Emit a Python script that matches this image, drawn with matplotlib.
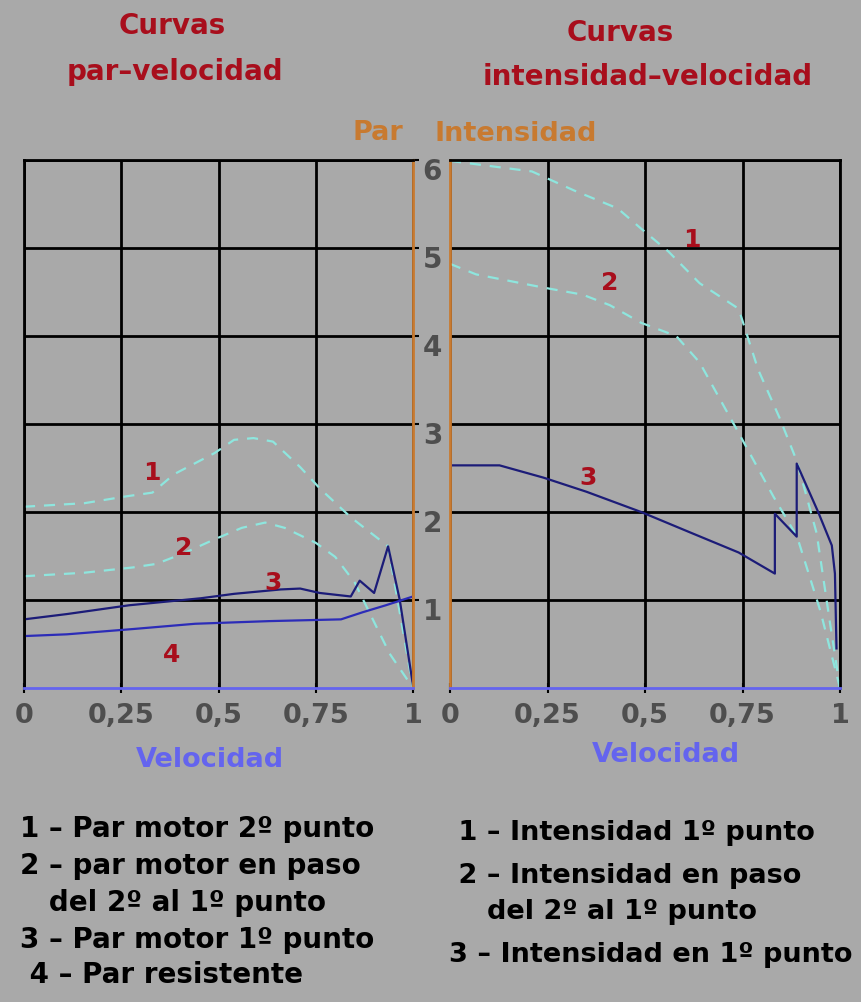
import matplotlib
matplotlib.use("Agg")
import matplotlib.pyplot as plt
from matplotlib.transforms import ScaledTranslation

# ---------------- data ----------------
x_ticks = [0, 0.25, 0.5, 0.75, 1]
x_tick_labels = ["0", "0,25", "0,5", "0,75", "1"]
y_ticks = [1, 2, 3, 4, 5, 6]
y_tick_labels = ["1", "2", "3", "4", "5", "6"]

# Par-velocidad curves
par1_x = [0.0, 0.155, 0.266, 0.33, 0.386, 0.49, 0.54, 0.59, 0.64, 0.71, 0.76, 0.84, 0.936, 1.0]
par1_y = [2.06, 2.10, 2.18, 2.22, 2.43, 2.67, 2.82, 2.84, 2.80, 2.51, 2.27, 1.94, 1.61, 0.0]

par2_x = [0.0, 0.155, 0.28, 0.34, 0.41, 0.49, 0.56, 0.62, 0.67, 0.75, 0.80, 0.85, 0.89, 0.94, 1.0]
par2_y = [1.27, 1.31, 1.37, 1.41, 1.53, 1.69, 1.82, 1.88, 1.82, 1.65, 1.49, 1.20, 0.84, 0.39, 0.0]

par3_x = [0.0, 0.11, 0.27, 0.455, 0.54, 0.66, 0.71, 0.76, 0.84, 0.863, 0.90, 0.936, 0.966, 1.0]
par3_y = [0.78, 0.84, 0.94, 1.02, 1.07, 1.12, 1.13, 1.08, 1.04, 1.22, 1.08, 1.61, 1.00, 0.03]

par4_x = [0.0, 0.11, 0.28, 0.44, 0.63, 0.815, 0.87, 0.93, 1.0]
par4_y = [0.59, 0.61, 0.67, 0.73, 0.76, 0.78, 0.86, 0.94, 1.04]

# Intensidad-velocidad curves
int1_x = [0.0, 0.21, 0.32, 0.43, 0.49, 0.56, 0.64, 0.74, 0.79, 0.846, 0.89, 0.94, 0.974, 1.0]
int1_y = [5.99, 5.87, 5.65, 5.45, 5.22, 4.96, 4.60, 4.31, 3.62, 3.06, 2.57, 1.76, 0.75, 0.0]

int2_x = [0.0, 0.067, 0.24, 0.34, 0.41, 0.49, 0.58, 0.64, 0.73, 0.83, 0.89, 0.95, 1.0]
int2_y = [4.82, 4.70, 4.55, 4.47, 4.35, 4.15, 4.00, 3.70, 2.98, 2.17, 1.72, 0.87, 0.0]

int3_x = [0.0, 0.127, 0.24, 0.35, 0.49, 0.62, 0.74, 0.833, 0.833, 0.889, 0.889, 0.944, 0.979, 0.987, 0.991]
int3_y = [2.53, 2.53, 2.39, 2.23, 2.00, 1.76, 1.54, 1.30, 1.98, 1.72, 2.55, 2.00, 1.62, 1.30, 0.45]

par_labels = ["1", "2", "3", "4"]
par_label_x = [0.33, 0.41, 0.64, 0.38]
par_label_y = [2.44, 1.59, 1.19, 0.375]

int_labels = ["1", "2", "3"]
int_label_x = [0.62, 0.41, 0.355]
int_label_y = [5.09, 4.60, 2.39]

legend_left = ["1 \u2013 Par motor 2\u00ba punto",
               "2 \u2013 par motor en paso",
               "   del 2\u00ba al 1\u00ba punto",
               "3 \u2013 Par motor 1\u00ba punto",
               " 4 \u2013 Par resistente"]
legend_right = [" 1 \u2013 Intensidad 1\u00ba punto",
                " 2 \u2013 Intensidad en paso",
                "    del 2\u00ba al 1\u00ba punto",
                "3 \u2013 Intensidad en 1\u00ba punto"]

# ---------------- style ----------------
BG = "#a9a9a9"
CYAN = "#8ee6de"
NAVY = "#1c1c78"
BLUE = "#2c2cb8"
RED = "#a80e1c"
ORANGE = "#c87a30"
AXBLUE = "#6464ee"
GRAY = "#4e4e4e"

W, H = 861, 1002
fig = plt.figure(figsize=(W / 100, H / 100), dpi=100, facecolor=BG)

def fx(px):
    return px / W

def fy(py):
    return 1 - py / H

ax1 = fig.add_axes([fx(24), fy(688), fx(413) - fx(24), fy(160) - fy(688)])
ax2 = fig.add_axes([fx(450), fy(688), fx(840) - fx(450), fy(160) - fy(688)])

for ax in (ax1, ax2):
    ax.set_facecolor(BG)
    ax.set_xlim(0, 1)
    ax.set_ylim(0, 6)
    ax.set_xticks(x_ticks)
    ax.set_xticklabels(x_tick_labels)
    ax.set_yticks(y_ticks)
    ax.grid(True, color="black", linewidth=2)
    ax.set_axisbelow(True)
    ax.spines["bottom"].set_color(AXBLUE)
    ax.spines["bottom"].set_linewidth(2)
    ax.spines["top"].set_color("black")
    ax.spines["top"].set_linewidth(2)
    ax.tick_params(axis="x", colors="black", length=7, width=1.5, direction="inout",
                   labelcolor=GRAY, labelsize=19.5, pad=7)
    for lab in ax.get_xticklabels():
        lab.set_fontweight("bold")

# left panel
ax1.spines["left"].set_color("black")
ax1.spines["left"].set_linewidth(2)
ax1.spines["right"].set_color(ORANGE)
ax1.spines["right"].set_linewidth(2)
ax1.yaxis.tick_right()
ax1.set_yticklabels(y_tick_labels)
ax1.tick_params(axis="y", colors="black", length=4, width=1.5, labelcolor=GRAY,
                labelsize=20, pad=3)
shift = ScaledTranslation(0, -9 / 100, fig.dpi_scale_trans)
for lab in ax1.get_yticklabels():
    lab.set_fontweight("bold")
    lab.set_transform(lab.get_transform() + shift)

# right panel
ax2.spines["left"].set_color(ORANGE)
ax2.spines["left"].set_linewidth(2)
ax2.spines["right"].set_color("black")
ax2.spines["right"].set_linewidth(2)
ax2.tick_params(axis="y", left=False, labelleft=False)

dash = dict(linestyle=(0, (5, 4)), linewidth=1.6, color=CYAN)
ax1.plot(par1_x, par1_y, **dash)
ax1.plot(par2_x, par2_y, **dash)
ax1.plot(par3_x, par3_y, color=NAVY, linewidth=1.6)
ax1.plot(par4_x, par4_y, color=BLUE, linewidth=1.6)

ax2.plot(int1_x, int1_y, **dash)
ax2.plot(int2_x, int2_y, **dash)
ax2.plot(int3_x, int3_y, color=NAVY, linewidth=1.6)

for t, x, y in zip(par_labels, par_label_x, par_label_y):
    ax1.text(x, y, t, color=RED, fontsize=18, fontweight="bold", ha="center", va="center")
for t, x, y in zip(int_labels, int_label_x, int_label_y):
    ax2.text(x, y, t, color=RED, fontsize=18, fontweight="bold", ha="center", va="center")

# titles and axis names
tkw = dict(color=RED, fontsize=20, ha="center", va="center", fontweight="bold")
fig.text(fx(172), fy(26), "Curvas", **tkw)
fig.text(fx(175), fy(72), "par\u2013velocidad", **tkw)
fig.text(fx(620), fy(33), "Curvas", **tkw)
fig.text(fx(648), fy(77), "intensidad\u2013velocidad", **tkw)

okw = dict(color=ORANGE, fontsize=19.5, ha="center", va="center", fontweight="bold")
fig.text(fx(378), fy(133), "Par", **okw)
fig.text(fx(516), fy(134), "Intensidad", **okw)

vkw = dict(color=AXBLUE, fontsize=19.5, ha="center", va="center", fontweight="bold")
fig.text(fx(210), fy(760), "Velocidad", **vkw)
fig.text(fx(666), fy(755), "Velocidad", **vkw)

# legends
lkw = dict(color="black", fontsize=20, ha="left", va="center", fontweight="bold")
left_y = [829, 866, 903, 940, 975]
for t, y in zip(legend_left, left_y):
    fig.text(fx(20), fy(y), t, **lkw)
rkw = dict(color="black", fontsize=19.5, ha="left", va="center", fontweight="bold")
right_y = [833, 876, 912, 955]
for t, y in zip(legend_right, right_y):
    fig.text(fx(449), fy(y), t, **rkw)

fig.savefig("out.png", dpi=100, facecolor=BG)
